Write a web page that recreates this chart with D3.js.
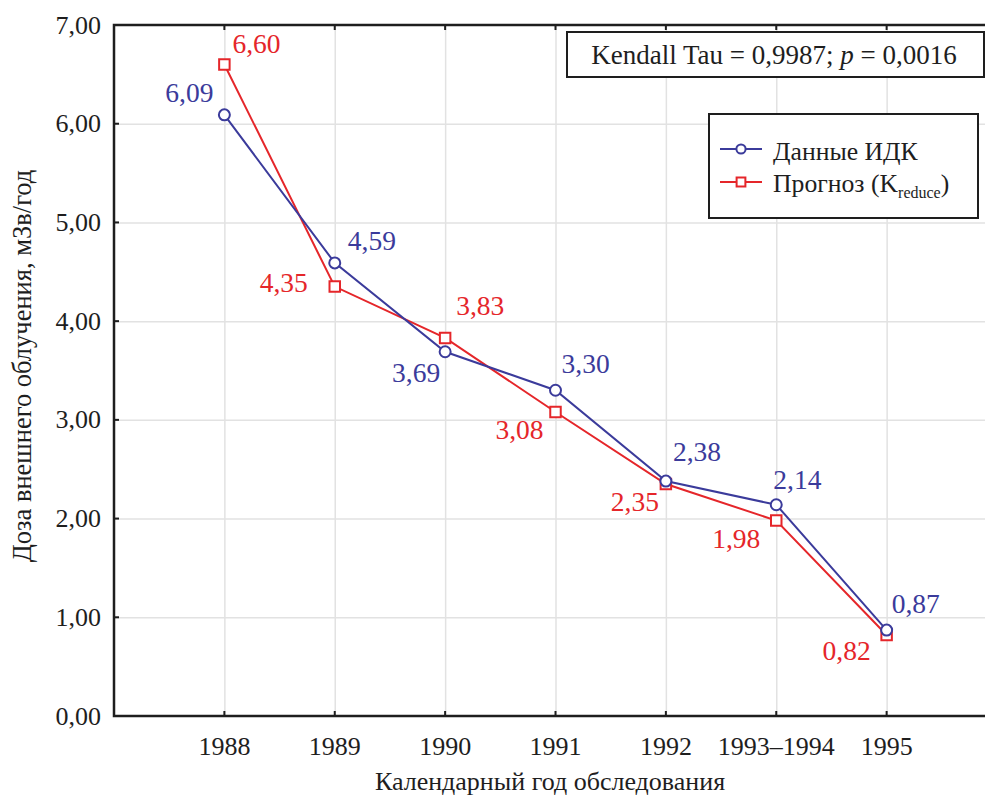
<!DOCTYPE html>
<html>
<head>
<meta charset="utf-8">
<script src="https://cdn.jsdelivr.net/npm/d3@7"></script>
<style>
	body { margin: 0; background: #fff; }
	.grid line { stroke: #e2e2e2; stroke-width: 1.5; }
	.grid .domain { display: none; }
</style>
</head>
<body>
<div id="graphic"></div>
<script>
// categories (calendar years of survey)
const years = ['1988', '1989', '1990', '1991', '1992', '1993–1994', '1995'];
// dose values, mSv/year
const idkValues = [6.09, 4.59, 3.69, 3.30, 2.38, 2.14, 0.87];
const forecastValues = [6.60, 4.35, 3.83, 3.08, 2.35, 1.98, 0.82];
const yTicks = [0, 1, 2, 3, 4, 5, 6, 7];

// label placement: [anchor, dx, dy]
const idkLabelPos = [['end', -11, -13], ['start', 13, -13], ['end', -5, 30], ['start', 6, -17], ['start', 7, -20], ['start', -3, -16], ['start', 5, -17]];
const forecastLabelPos = [['start', 8, -11], ['end', -27, 5], ['start', 11, -23], ['end', -12, 27], ['end', -7, 27], ['end', -16, 27], ['end', -16, 25]];

const blue = '#3b3b9b';
const red = '#e5262a';
const ink = '#1e1e1e';
const serif = '"Liberation Serif", "Times New Roman", "DejaVu Serif", serif';

let width = 985, height = 798;
let margin = { top: 25, left: 114, bottom: 82 };
let plotRight = 997;
let plotBottom = height - margin.bottom;

let fmt = (v) => d3.format('.2f')(v).replace('.', ',');

let svg = d3.select('#graphic')
	.append('svg')
	.attr('width', width)
	.attr('height', height)
	.style('font-family', serif);

const x = d3.scaleLinear().domain([0, years.length + 1]).range([margin.left, plotRight]);
const y = d3.scaleLinear().domain([0, 7]).range([plotBottom, margin.top]);

// gridlines
svg.append('g')
	.attr('class', 'grid')
	.attr('transform', 'translate(0,' + plotBottom + ')')
	.call(d3.axisBottom(x).tickValues(d3.range(1, years.length + 1)).tickSize(-(plotBottom - margin.top)).tickFormat(''));
svg.append('g')
	.attr('class', 'grid')
	.attr('transform', 'translate(' + margin.left + ',0)')
	.call(d3.axisLeft(y).tickValues(yTicks.slice(1, -1)).tickSize(-(plotRight - margin.left)).tickFormat(''));

// frame
svg.append('rect')
	.attr('x', margin.left)
	.attr('y', margin.top)
	.attr('width', plotRight - margin.left)
	.attr('height', plotBottom - margin.top)
	.attr('fill', 'none')
	.attr('stroke', ink)
	.attr('stroke-width', 2.5);

// inward ticks
let tickLen = 5;
svg.append('g').selectAll('line')
	.data(d3.range(1, years.length + 1))
	.join('line')
	.attr('x1', (d) => x(d)).attr('x2', (d) => x(d))
	.attr('y1', plotBottom).attr('y2', plotBottom - tickLen)
	.attr('stroke', ink).attr('stroke-width', 2);
svg.append('g').selectAll('line')
	.data(d3.range(1, years.length + 1))
	.join('line')
	.attr('x1', (d) => x(d)).attr('x2', (d) => x(d))
	.attr('y1', margin.top).attr('y2', margin.top + tickLen)
	.attr('stroke', ink).attr('stroke-width', 2);
svg.append('g').selectAll('line')
	.data(yTicks)
	.join('line')
	.attr('x1', margin.left).attr('x2', margin.left + tickLen)
	.attr('y1', (d) => y(d)).attr('y2', (d) => y(d))
	.attr('stroke', ink).attr('stroke-width', 2);

// tick labels
svg.append('g').selectAll('text')
	.data(yTicks)
	.join('text')
	.attr('x', margin.left - 13)
	.attr('y', (d) => y(d))
	.attr('dy', '0.33em')
	.attr('text-anchor', 'end')
	.attr('font-size', 26)
	.attr('fill', ink)
	.text((d) => fmt(d));

svg.append('g').selectAll('text')
	.data(years)
	.join('text')
	.attr('x', (d, i) => x(i + 1))
	.attr('y', plotBottom + 39)
	.attr('text-anchor', 'middle')
	.attr('font-size', 26)
	.attr('fill', ink)
	.text((d) => d);

// axis titles
svg.append('text')
	.attr('transform', 'translate(31,366) rotate(-90)')
	.attr('text-anchor', 'middle')
	.attr('font-size', 26.5)
	.attr('fill', ink)
	.text('Доза внешнего облучения, мЗв/год');

svg.append('text')
	.attr('x', 550)
	.attr('y', 790)
	.attr('text-anchor', 'middle')
	.attr('font-size', 26)
	.attr('fill', ink)
	.text('Календарный год обследования');

// series
let series = [
	{ name: 'forecast', values: forecastValues, color: red, symbol: d3.symbolSquare, size: 110, pos: forecastLabelPos },
	{ name: 'idk', values: idkValues, color: blue, symbol: d3.symbolCircle, size: 95, pos: idkLabelPos }
];

let line = d3.line().x((d, i) => x(i + 1)).y((d) => y(d));

series.forEach((s) => {
	let g = svg.append('g').attr('class', s.name);
	g.append('path')
		.attr('d', line(s.values))
		.attr('fill', 'none')
		.attr('stroke', s.color)
		.attr('stroke-width', 2);
	g.selectAll('path.marker')
		.data(s.values)
		.join('path')
		.attr('class', 'marker')
		.attr('transform', (d, i) => 'translate(' + x(i + 1) + ',' + y(d) + ')')
		.attr('d', d3.symbol().type(s.symbol).size(s.size))
		.attr('fill', '#fff')
		.attr('stroke', s.color)
		.attr('stroke-width', 2);
});

series.forEach((s) => {
	svg.append('g').selectAll('text')
		.data(s.values)
		.join('text')
		.attr('x', (d, i) => x(i + 1) + s.pos[i][1])
		.attr('y', (d, i) => y(d) + s.pos[i][2])
		.attr('text-anchor', (d, i) => s.pos[i][0])
		.attr('font-size', 27.5)
		.attr('fill', s.color)
		.text((d) => fmt(d));
});

// Kendall box
let kb = svg.append('g');
kb.append('rect')
	.attr('x', 567).attr('y', 32)
	.attr('width', 417).attr('height', 45)
	.attr('fill', '#fff')
	.attr('stroke', ink)
	.attr('stroke-width', 2);
let kt = kb.append('text')
	.attr('x', 774).attr('y', 64)
	.attr('text-anchor', 'middle')
	.attr('font-size', 27)
	.attr('fill', ink);
kt.append('tspan').text('Kendall Tau = 0,9987; ');
kt.append('tspan').attr('font-style', 'italic').text('p');
kt.append('tspan').text(' = 0,0016');

// legend
let lg = svg.append('g');
lg.append('rect')
	.attr('x', 709).attr('y', 114)
	.attr('width', 269).attr('height', 104)
	.attr('fill', '#fff')
	.attr('stroke', ink)
	.attr('stroke-width', 2);
let legendItems = [series[1], series[0]];
legendItems.forEach((s, i) => {
	let ly = 149 + i * 33;
	lg.append('line')
		.attr('x1', 720).attr('x2', 762)
		.attr('y1', ly).attr('y2', ly)
		.attr('stroke', s.color).attr('stroke-width', 2);
	lg.append('path')
		.attr('transform', 'translate(741,' + ly + ')')
		.attr('d', d3.symbol().type(s.symbol).size(s.size * 0.7))
		.attr('fill', '#fff')
		.attr('stroke', s.color)
		.attr('stroke-width', 2);
});
lg.append('text')
	.attr('x', 773).attr('y', 160)
	.attr('font-size', 25.7)
	.attr('fill', ink)
	.text('Данные ИДК');
let lt = lg.append('text')
	.attr('x', 773).attr('y', 192)
	.attr('font-size', 25.7)
	.attr('fill', ink);
lt.append('tspan').text('Прогноз (K');
lt.append('tspan').attr('font-size', 16).attr('dy', 6).text('reduce');
lt.append('tspan').attr('dy', -6).text(')');
</script>
</body>
</html>
